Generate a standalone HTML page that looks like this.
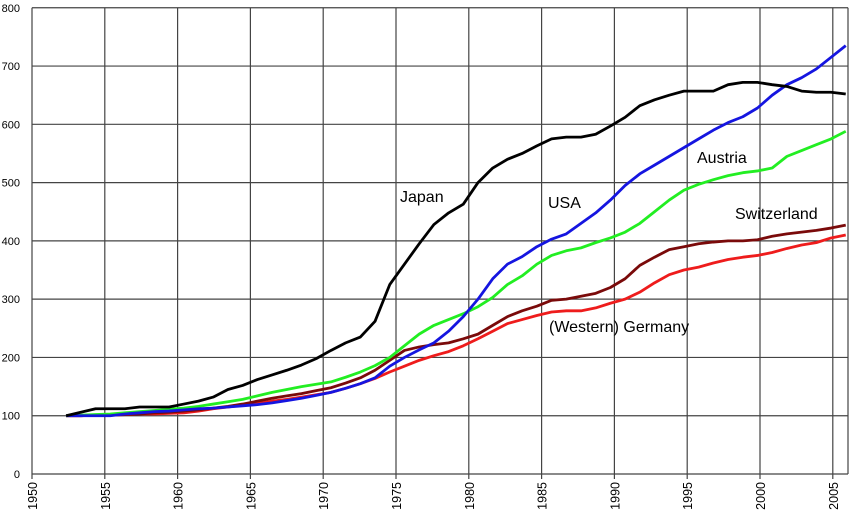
<!DOCTYPE html>
<html><head><meta charset="utf-8"><style>
body{margin:0;background:#fff}
svg{display:block;font-family:"Liberation Sans",Arial,sans-serif}
</style></head><body>
<svg id="chart" width="850" height="512" viewBox="0 0 850 512" xmlns="http://www.w3.org/2000/svg">
<g id="grid"></g>
<g id="axes"></g>
<g id="series"></g>
<g font-size="16" fill="#000">
<text x="400" y="202">Japan</text>
<text x="548" y="208">USA</text>
<text x="697" y="163">Austria</text>
<text x="735" y="219">Switzerland</text>
<text x="549" y="332">(Western) Germany</text>
</g>
</svg>
<script>
const xTicks=[1950,1955,1960,1965,1970,1975,1980,1985,1990,1995,2000,2005];
const yTicks=[0,100,200,300,400,500,600,700,800];
const years=[1952,1953,1954,1955,1956,1957,1958,1959,1960,1961,1962,1963,1964,1965,1966,1967,1968,1969,1970,1971,1972,1973,1974,1975,1976,1977,1978,1979,1980,1981,1982,1983,1984,1985,1986,1987,1988,1989,1990,1991,1992,1993,1994,1995,1996,1997,1998,1999,2000,2001,2002,2003,2004,2005];
const japan=[100,106,112,112,112,115,115,115,120,125,132,145,152,162,170,178,187,198,212,225,235,262,325,360,395,428,448,463,500,525,540,550,563,575,578,578,583,597,612,632,642,650,657,657,657,668,672,672,668,665,657,655,655,652];
const usa=[100,100,100,100,103,105,107,108,110,112,113,115,117,119,122,126,130,135,140,147,155,165,185,200,213,225,245,270,300,335,360,373,390,403,412,430,448,470,495,515,530,545,560,575,590,603,613,628,650,668,680,695,715,735];
const austria=[100,101,102,103,105,107,109,111,113,116,120,124,128,134,140,145,150,154,158,166,175,186,200,220,240,255,265,275,287,303,325,340,360,375,383,388,397,405,415,430,450,470,487,497,505,512,517,520,525,545,555,565,575,588];
const switzerland=[100,100,101,101,102,103,105,106,108,110,113,116,120,125,130,134,138,143,148,156,165,178,195,212,218,222,225,232,240,255,270,280,288,298,300,305,310,320,335,358,372,385,390,395,398,400,400,402,408,412,415,418,422,427];
const germany=[100,100,101,101,102,103,103,104,105,108,112,115,118,121,125,128,132,136,140,147,155,164,175,185,195,203,210,220,232,245,258,265,272,278,280,280,285,293,300,312,328,342,350,355,362,368,372,375,380,387,393,397,405,410];
const X0=32,XR=848,Y0=474,PX=14.56,PY=0.5828;
const xs=y=>X0+(y-1950)*PX+(y>1951?5:0)*(2006-y)/54, ys=v=>Y0-v*PY;
const xg=y=>X0+(y-1950)*PX;
const NS="http://www.w3.org/2000/svg";
function mk(t,a,p){const e=document.createElementNS(NS,t);for(const k in a)e.setAttribute(k,a[k]);p.appendChild(e);return e;}
const grid=document.getElementById('grid'),axes=document.getElementById('axes'),ser=document.getElementById('series');
yTicks.forEach(v=>{
 const l=mk('line',{x1:X0,x2:XR,y1:ys(v),y2:ys(v),stroke:'#444','stroke-width':1.2},grid);
 
 
 const t=mk('text',{x:20,y:ys(v)+4,'text-anchor':'end','font-size':11},axes);t.textContent=v;
 
 
});
xTicks.forEach(y=>{
 const l=mk('line',{x1:xg(y),x2:xg(y),y1:ys(800),y2:Y0+5,stroke:'#444','stroke-width':1.2},grid);
 
 
 const t=mk('text',{x:0,y:0,'text-anchor':'end','font-size':12.5,transform:`translate(${xg(y)+5},${Y0+8}) rotate(-90)`},axes);t.textContent=y;
 
 
});
const r=mk('line',{x1:XR,x2:XR,y1:ys(800),y2:Y0,stroke:'#444','stroke-width':1.2},grid);


const S=[['germany',germany,'#ee1c1c'],['switzerland',switzerland,'#7a0a0a'],['austria',austria,'#22ee22'],['usa',usa,'#1515e0'],['japan',japan,'#000']];
S.forEach(([n,d,c])=>{
 const p=mk('polyline',{points:d.map((v,i)=>(xg(years[i])+5+(years[i]-1952)*0.15)+','+ys(v)).join(' '),fill:'none',stroke:c,'stroke-width':2.8,'stroke-linejoin':'round'},ser);
 
 
});
</script>
</body></html>
